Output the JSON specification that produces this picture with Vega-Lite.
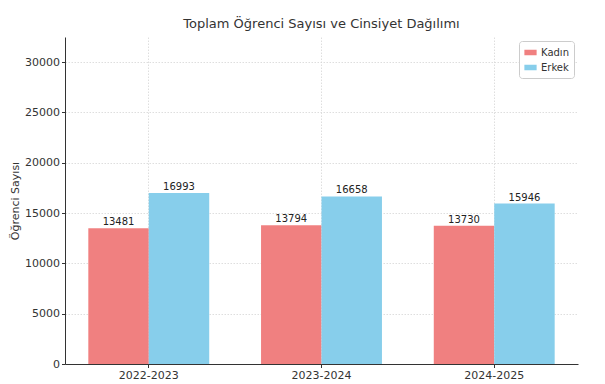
{
  "$schema": "https://vega.github.io/schema/vega-lite/v6.json",
  "autosize": "none",
  "width": 513,
  "height": 327,
  "padding": {"left": 65, "top": 37, "right": 27, "bottom": 20},
  "background": "white",
  "title": {"text": "Toplam Öğrenci Sayısı ve Cinsiyet Dağılımı", "font": "DejaVu Sans", "fontSize": 13, "fontWeight": "normal", "color": "#333333", "offset": 6},
  "config": {
    "font": "DejaVu Sans",
    "view": {"stroke": null},
    "axis": {"labelFont": "DejaVu Sans", "titleFont": "DejaVu Sans", "labelFontSize": 11, "titleFontSize": 11, "labelColor": "#333333", "titleColor": "#333333", "titleFontWeight": "normal", "gridColor": "#d6d6d6", "gridDash": [1.5, 1.5], "gridWidth": 0.8, "domainColor": "#333333", "tickColor": "#333333", "tickSize": 3.5}
  },
  "data": {"values": [
    {"yil": "2022-2023", "cinsiyet": "Kadın", "sayi": 13481},
    {"yil": "2022-2023", "cinsiyet": "Erkek", "sayi": 16993},
    {"yil": "2023-2024", "cinsiyet": "Kadın", "sayi": 13794},
    {"yil": "2023-2024", "cinsiyet": "Erkek", "sayi": 16658},
    {"yil": "2024-2025", "cinsiyet": "Kadın", "sayi": 13730},
    {"yil": "2024-2025", "cinsiyet": "Erkek", "sayi": 15946}
  ]},
  "encoding": {
    "x": {"field": "yil", "type": "nominal", "title": "Akademik Yıl",
      "scale": {"paddingInner": 0.3, "paddingOuter": 0.135},
      "axis": {"labelAngle": 0, "grid": true, "titlePadding": 6}},
    "xOffset": {"field": "cinsiyet", "type": "nominal", "sort": ["Kadın", "Erkek"], "scale": {"paddingInner": 0}},
    "y": {"field": "sayi", "type": "quantitative", "title": "Öğrenci Sayısı",
      "scale": {"domain": [0, 32500], "nice": false},
      "axis": {"values": [0, 5000, 10000, 15000, 20000, 25000, 30000], "format": "d", "grid": true, "titlePadding": 4}}
  },
  "layer": [
    {"mark": {"type": "bar", "opacity": 1},
     "encoding": {"color": {"field": "cinsiyet", "type": "nominal", "sort": ["Kadın", "Erkek"],
        "scale": {"domain": ["Kadın", "Erkek"], "range": ["#F08080", "#87CEEB"]},
        "legend": {"title": null, "orient": "top-right", "offset": 4, "fillColor": "white", "strokeColor": "#cccccc", "cornerRadius": 3, "padding": 5, "labelFontSize": 10, "labelColor": "#333333", "symbolType": "M-1,-0.45H1V0.45H-1Z", "symbolSize": 150, "symbolStrokeWidth": 0, "rowPadding": 3}}}},
    {"mark": {"type": "text", "baseline": "bottom", "dy": -1, "fontSize": 10, "color": "#222222"},
     "encoding": {"text": {"field": "sayi", "type": "quantitative", "format": "d"}}}
  ]
}
